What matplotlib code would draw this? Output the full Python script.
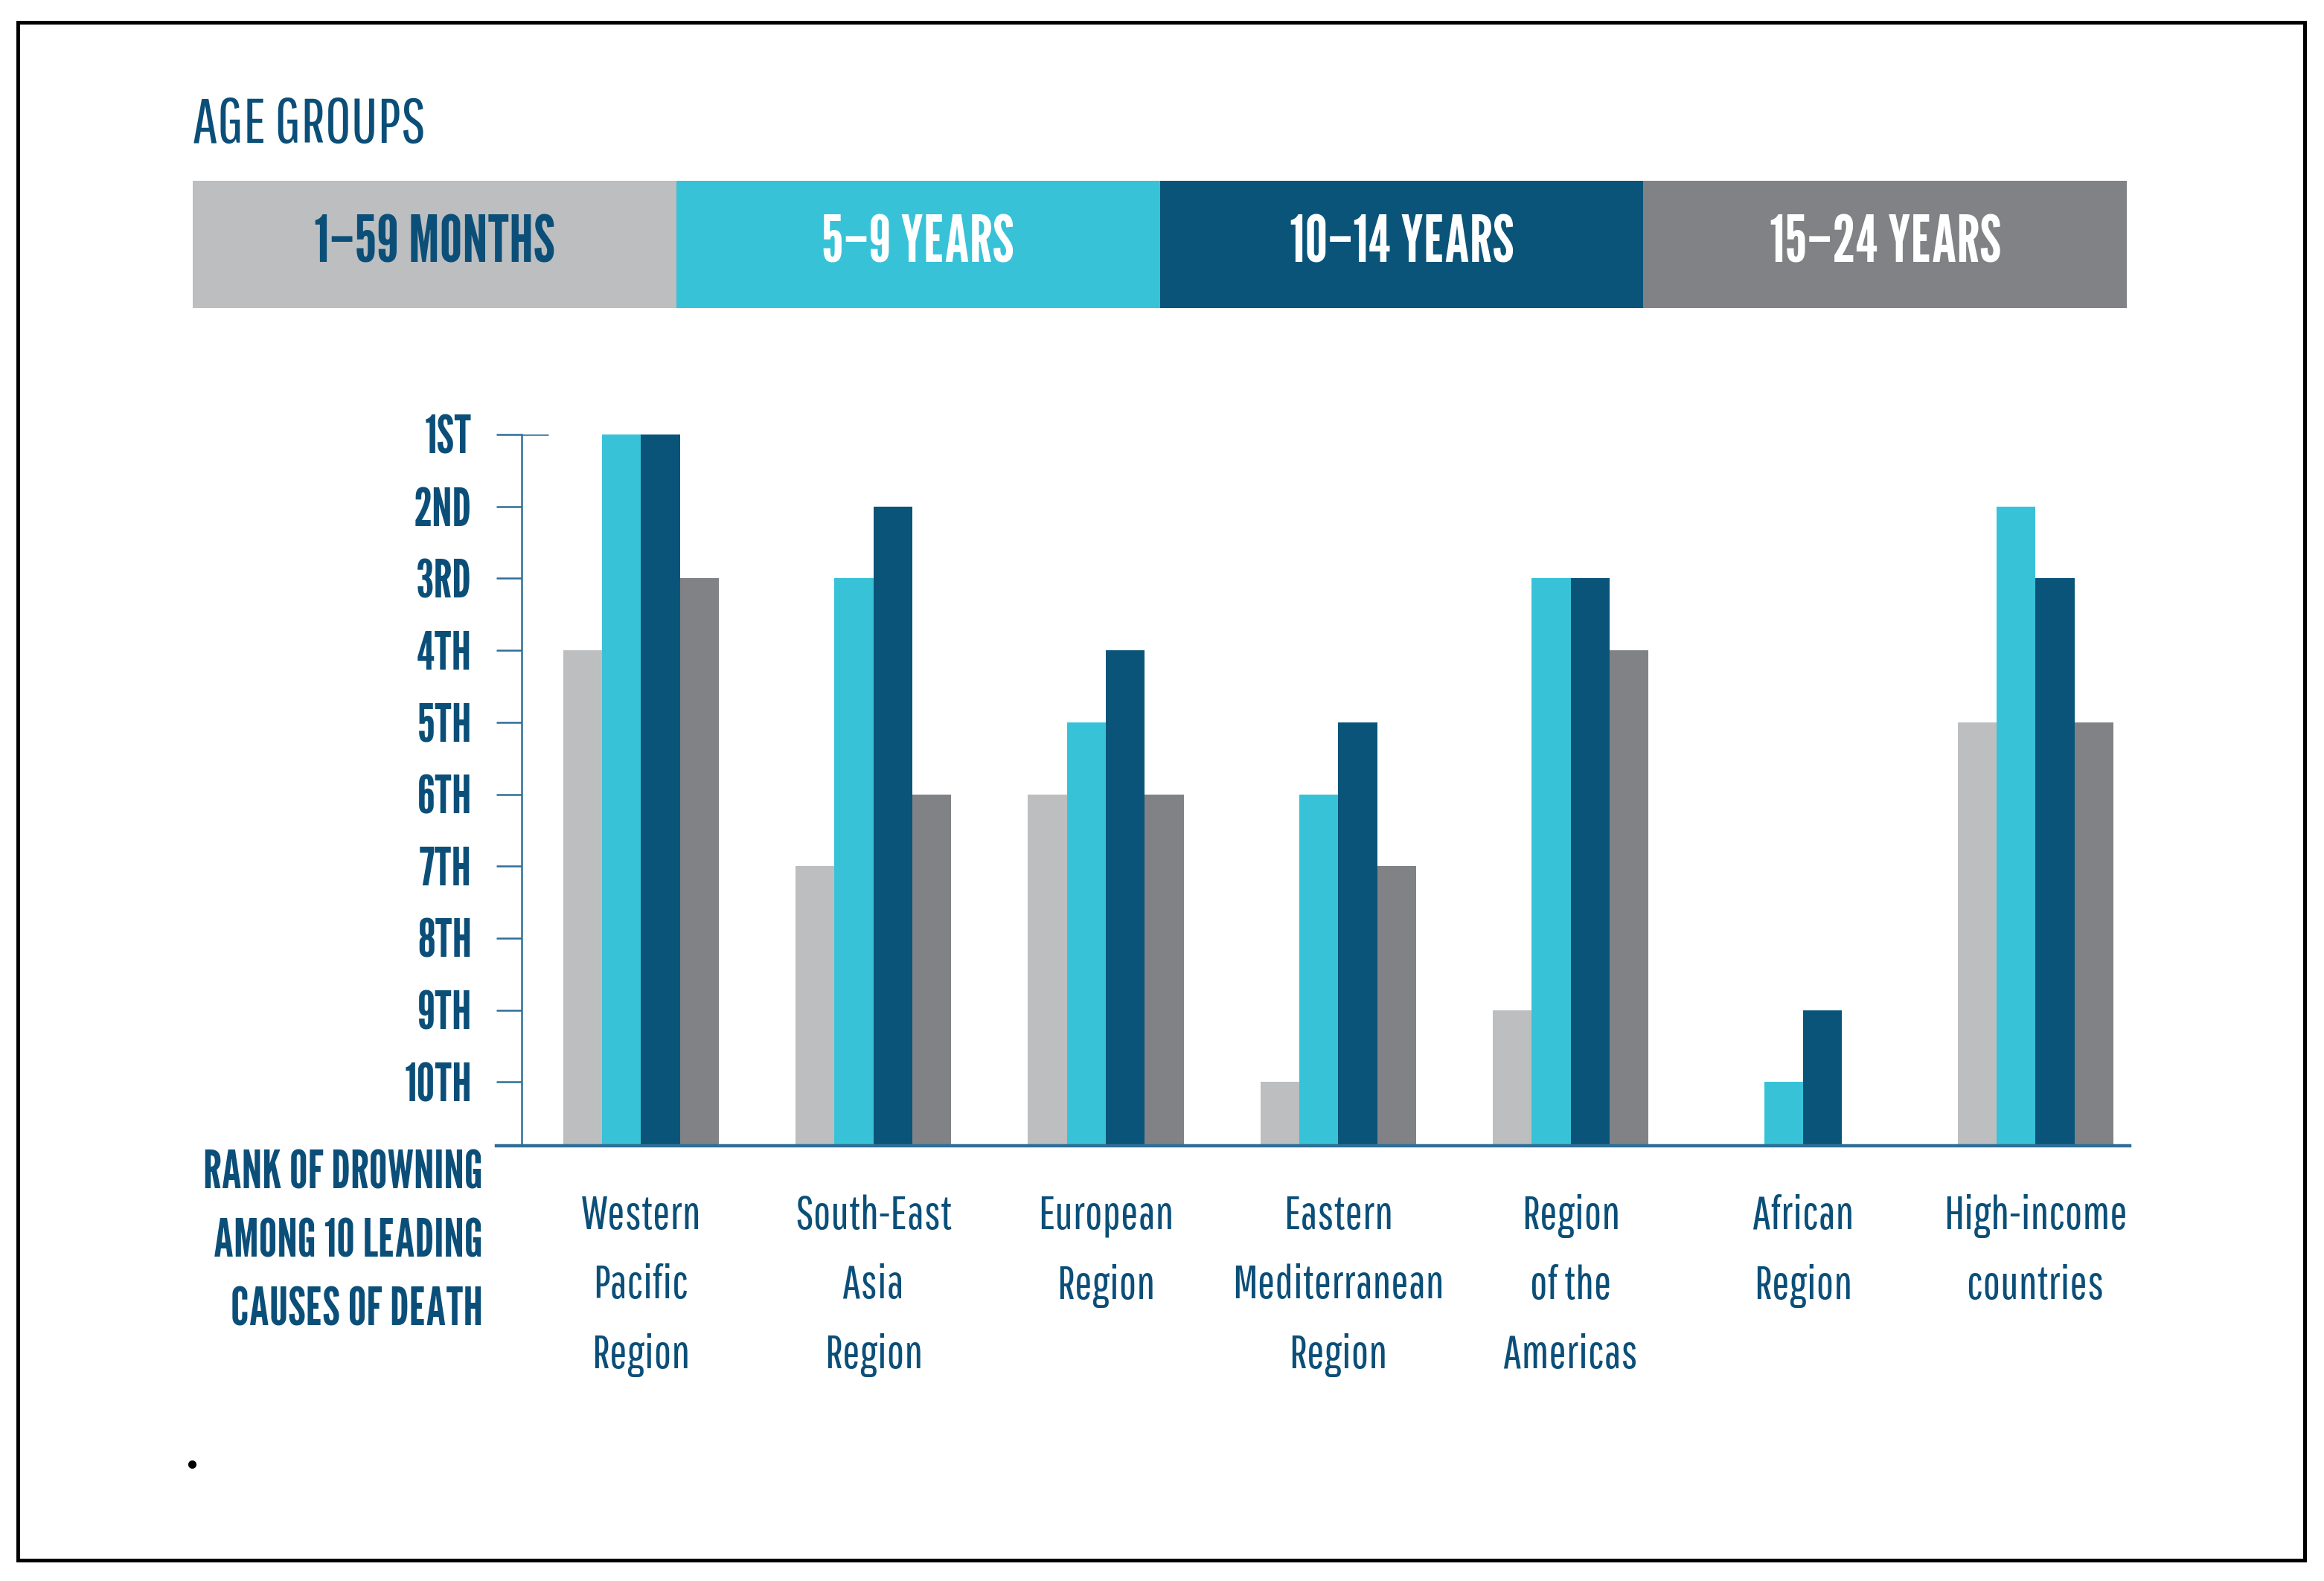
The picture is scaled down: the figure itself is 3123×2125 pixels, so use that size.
import numpy as np
import matplotlib
matplotlib.use('Agg')
import matplotlib.pyplot as plt
from matplotlib.patches import Rectangle
from matplotlib.lines import Line2D

# Rank of drowning among the 10 leading causes of death (1 = 1st), nan = not in top 10
regions = ['Western\nPacific\nRegion', 'South-East\nAsia\nRegion', 'European\nRegion',
           'Eastern\nMediterranean\nRegion', 'Region\nof the\nAmericas', 'African\nRegion',
           'High-income\ncountries']
age_groups = ['1–59 MONTHS', '5–9 YEARS', '10–14 YEARS', '15–24 YEARS']
rank_1_59_months = [4, 7, 6, 10, 9, np.nan, 5]
rank_5_9_years = [1, 3, 5, 6, 3, 10, 2]
rank_10_14_years = [1, 2, 4, 5, 3, 9, 3]
rank_15_24_years = [3, 6, 6, 7, 4, np.nan, 5]
rank_labels = ['1ST', '2ND', '3RD', '4TH', '5TH', '6TH', '7TH', '8TH', '9TH', '10TH']
ylabel_lines = ['RANK OF DROWNING', 'AMONG 10 LEADING', 'CAUSES OF DEATH']

colors = ['#bcbec0', '#38c2d8', '#0a5479', '#808285']
text_blue = '#0b4f79'
axis_blue = '#2f6f97'
BOLD = ['League Gothic', 'DejaVu Sans']
REG = ['Pathway Gothic One', 'DejaVu Sans']
BASE = 10.885   # where the bars start (just below 10th)

fig = plt.figure(figsize=(31.23, 21.25), dpi=100)

# outer frame
fig.patches.append(Rectangle((0.0077, 0.0132), 0.984, 0.9727, transform=fig.transFigure,
                             fill=False, lw=3.6, ec='black'))

# title
fig.text(0.083, 0.921, 'AGE GROUPS', family=REG, fontsize=61, color=text_blue,
         ha='left', va='center')

# age group band
hax = fig.add_axes([0.0829, 0.8052, 0.8323, 0.0804])
for i, (lab, c) in enumerate(zip(age_groups, colors)):
    hax.barh(0, 1, left=i, height=1, color=c)
    hax.text(i + 0.5, 0, lab, family=BOLD, fontsize=62,
             color=text_blue if i == 0 else 'white', ha='center', va='center')
hax.set_xlim(0, 4)
hax.set_ylim(-0.5, 0.5)
hax.axis('off')

# main chart
ax = fig.add_axes([0.2136, 0.2753, 0.7029, 0.4499])
x = np.arange(len(regions))
w = 0.1674
series = [rank_1_59_months, rank_5_9_years, rank_10_14_years, rank_15_24_years]
for k, (vals, c) in enumerate(zip(series, colors)):
    vals = np.array(vals, dtype=float)
    ax.bar(x + (k - 1.5) * w, BASE - vals, bottom=vals, width=w, color=c, linewidth=0)

ax.set_ylim(BASE, 1)
ax.set_xlim(-0.622, 6.406)
spine_x = -0.513
for s in ['top', 'right']:
    ax.spines[s].set_visible(False)
ax.spines['left'].set_position(('data', spine_x))
ax.spines['left'].set_bounds(1, BASE)
ax.spines['left'].set_color(axis_blue)
ax.spines['left'].set_linewidth(1.8)
ax.spines['bottom'].set_color(axis_blue)
ax.spines['bottom'].set_linewidth(3.2)
# small cap at the top of the rank axis
ax.hlines(1, spine_x, spine_x + 0.115, color=axis_blue, lw=1.8)

ax.set_yticks(range(1, 11))
ax.set_yticklabels(rank_labels, family=BOLD, fontsize=50, color=text_blue)
ax.tick_params(axis='y', direction='out', length=24.5, width=1.8, color=axis_blue, pad=24)

ax.set_xticks(x)
ax.set_xticklabels(regions, family=REG, fontsize=45, color=text_blue, linespacing=1.76)
ax.tick_params(axis='x', length=0, pad=47)

# rank axis caption
for i, line in enumerate(ylabel_lines):
    fig.text(0.2078, 0.2574 - i * 0.0432, line, family=BOLD, fontsize=50,
             color=text_blue, ha='right', va='center')

# stray dot in the source
fig.add_artist(Line2D([0.0826], [0.0739], marker='o', ms=7, color='black',
                      transform=fig.transFigure))

fig.savefig('out.png', dpi=100)
